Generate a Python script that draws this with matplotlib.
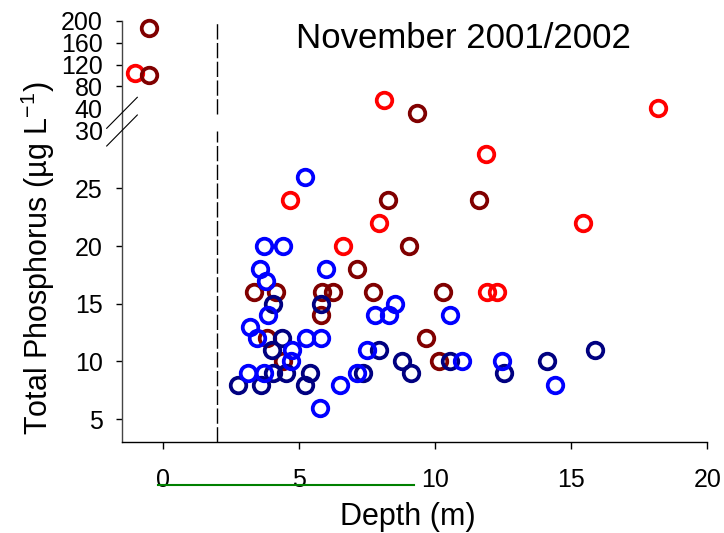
import numpy as np
import matplotlib
matplotlib.use('Agg')
import matplotlib.pyplot as plt
from matplotlib.lines import Line2D

plt.rcParams['font.family'] = ['Liberation Sans', 'DejaVu Sans']
plt.rcParams['mathtext.fontset'] = 'custom'
plt.rcParams['mathtext.rm'] = 'Liberation Sans'

# depth (m) and total phosphorus (ug/L) per group
red_x = [-1.0, 8.13, 18.2, 11.87, 4.69, 7.93, 15.45, 6.64, 11.90, 12.29]
red_y = [105, 55, 40, 28, 24, 22, 22, 20, 16, 16]

darkred_x = [-0.49, -0.49, 9.34, 8.26, 11.62, 9.06, 7.13, 3.35, 4.17, 5.85,
             6.26, 7.71, 10.29, 5.82, 9.68, 10.15, 3.82, 4.44]
darkred_y = [188, 100, 38, 24, 24, 20, 18, 16, 16, 16,
             16, 16, 16, 14, 12, 10, 12, 10]

navy_x = [4.04, 5.82, 4.38, 4.03, 4.07, 4.52, 5.42, 2.78, 3.63, 5.24,
          7.37, 7.93, 8.79, 9.12, 10.57, 12.53, 14.13, 15.88]
navy_y = [15, 15, 12, 11, 9, 9, 9, 8, 8, 8,
          9, 11, 10, 9, 10, 9, 10, 11]

blue_x = [5.24, 3.74, 4.42, 3.56, 5.99, 3.79, 3.87, 3.22, 3.46, 5.28,
          5.81, 4.75, 4.72, 3.15, 3.71, 5.79, 6.52, 7.15, 7.51, 7.81,
          8.33, 8.54, 10.55, 10.99, 12.45, 14.40]
blue_y = [26, 20, 20, 18, 18, 17, 14, 13, 12, 12,
          12, 11, 10, 9, 9, 6, 8, 9, 11, 14,
          14, 15, 14, 10, 10, 8]

x_ticks = [0, 5, 10, 15, 20]
y_ticks = [5, 10, 15, 20, 25, 30, 40, 80, 120, 160, 200]
y_no_mark = [30, 40]

# broken axis: linear up to 30, squeezed 30-40, compressed above 40
brk_v = [-100, 30, 40, 1000]
brk_t = [-100, 30, 31.95, 31.95 + 960 * 0.047125]


def fwd(v):
    return np.interp(v, brk_v, brk_t)


def inv(t):
    return np.interp(t, brk_t, brk_v)


W, H = 724, 533
fig = plt.figure(figsize=(W / 100, H / 100), dpi=100)
ax = fig.add_axes([121.7 / W, 1 - 442.3 / H, (707.3 - 121.7) / W, 421.3 / H])
ax.set_yscale('function', functions=(fwd, inv))

mk = dict(ls='none', marker='o', mfc='none', ms=11.2, mew=2.7, clip_on=False)
ax.plot(red_x, red_y, mec='#FF0000', **mk)
ax.plot(darkred_x, darkred_y, mec='#800000', **mk)
ax.plot(navy_x, navy_y, mec='#000080', **mk)
ax.plot(blue_x, blue_y, mec='#0000FF', **mk)

ax.vlines([2, 2], [3, 37.5], [30, 200], colors='k', lw=1,
          linestyles=[(0, (11, 2.5))])

ax.set_xlim(-1.5, 20)
ax.set_ylim(3, 200)
ax.set_xticks(x_ticks)
ax.set_yticks(y_ticks)
ax.set_yticklabels([str(v) for v in y_ticks])
ax.yaxis.set_minor_locator(plt.NullLocator())
for v, t in zip(y_ticks, ax.yaxis.get_major_ticks()):
    if v in y_no_mark:
        t.tick1line.set_visible(False)

ax.tick_params(axis='x', direction='out', length=5, width=1, pad=13.5, labelsize=18)
ax.tick_params(axis='y', direction='out', length=4, width=1, pad=9.7, labelsize=18)
for s in ['top', 'right']:
    ax.spines[s].set_visible(False)
ax.spines['left'].set_color('#444444')
ax.spines['left'].set_linewidth(1)
ax.spines['bottom'].set_linewidth(1)

fig.text(463.5 / W, 1 - 47.5 / H, 'November 2001/2002', fontsize=25,
         ha='center', va='baseline')
fig.text(408 / W, 1 - 525 / H, 'Depth (m)', fontsize=22, ha='center', va='baseline')
fig.text(38 / W, 1 - 258 / H, r'Total Phosphorus (µg L$^{\mathrm{-1}}$)', fontsize=22,
         rotation=90, ha='center', va='center')

# break marks across the y axis
for y0, y1 in [(128.3, 97.3), (146.0, 115.0)]:
    fig.add_artist(Line2D([106.7 / W, 137.3 / W], [1 - y0 / H, 1 - y1 / H],
                          transform=fig.transFigure, color='k', lw=0.8))

# green underline beneath the x tick labels
fig.add_artist(Line2D([158 / W, 414 / W], [1 - 485 / H, 1 - 485 / H],
                      transform=fig.transFigure, color='#008000', lw=1.5))

fig.savefig('out.png', dpi=100)
